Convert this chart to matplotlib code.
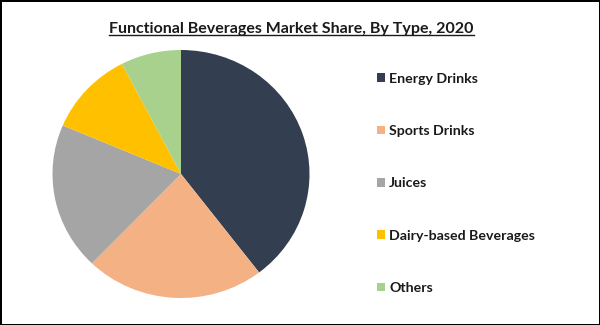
import matplotlib
matplotlib.use("Agg")
import matplotlib.pyplot as plt
from matplotlib.lines import Line2D
from matplotlib.patches import Patch

categories = ["Energy Drinks", "Sports Drinks", "Juices", "Dairy-based Beverages", "Others"]
shares = [39.6, 22.6, 19.2, 11.0, 7.6]
colors = ["#333F50", "#F4B183", "#A5A5A5", "#FFC000", "#A9D18E"]
title = "Functional Beverages Market Share, By Type, 2020"

plt.rcParams["font.family"] = ["Lato", "DejaVu Sans"]

W, H = 600, 325
fig = plt.figure(figsize=(6, 3.25), dpi=100)
fig.patch.set_edgecolor("black")
fig.patch.set_linewidth(2)

# pie box in pixels (slightly wider than tall, like the reference)
cx, cy, rx, ry = 181, 174, 128.5, 124
ax = fig.add_axes([(cx - rx) / W, (H - cy - ry) / H, 2 * rx / W, 2 * ry / H])
ax.pie(shares, colors=colors, startangle=90, counterclock=False,
       wedgeprops=dict(linewidth=0))
ax.set_aspect("auto")
ax.set_xlim(-1, 1)
ax.set_ylim(-1, 1)
ax.axis("off")

t = fig.text(291.5 / W, 1 - 33 / H, title, ha="center", va="baseline",
             fontsize=11.5, fontweight="bold", color="#1a1a1a")

handles = [Patch(facecolor=c, edgecolor="none") for c in colors]
leg = fig.legend(handles, categories, loc="upper left",
                 bbox_to_anchor=(370 / W, 1 - 65.5 / H), frameon=False,
                 fontsize=10.2, handlelength=0.55, handleheight=0.55,
                 handletextpad=0.3, labelspacing=2.85, borderpad=0)
for txt in leg.get_texts():
    txt.set_fontweight("bold")
    txt.set_color("#1a1a1a")

# underline the title
fig.canvas.draw()
bb = t.get_window_extent()
y_line = (H - 35) / H
fig.add_artist(Line2D([bb.x0 / W, bb.x1 / W], [y_line, y_line],
                      color="#1a1a1a", linewidth=1.0))

fig.savefig("out.png", dpi=100)
